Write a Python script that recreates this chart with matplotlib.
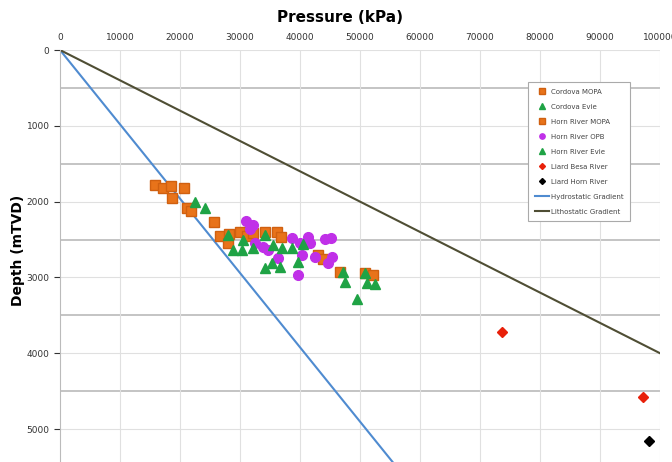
import numpy as np
from matplotlib import pyplot as plt

# pressure (kPa) / depth (mTVD)
cordova_mopa_p = [15800, 17200, 18500, 18700, 20700, 21200, 21800]
cordova_mopa_d = [1781, 1821, 1794, 1952, 1821, 2084, 2124]
cordova_evie_p = [22500, 24200]
cordova_evie_d = [2005, 2084]

hr_mopa_p = [25700, 26700, 28200, 28000, 30000, 31200, 32200, 34200, 36200, 36800,
             43000, 43800, 46700, 50800, 52200]
hr_mopa_d = [2269, 2454, 2427, 2546, 2401, 2454, 2414, 2401, 2401, 2467,
             2704, 2757, 2929, 2942, 2968]

hr_opb_p = [31000, 32200, 31700, 32500, 33800, 34700, 36300, 38700, 40000, 41300,
            41700, 44200, 45200, 40300, 42500, 44700, 45300, 39700]
hr_opb_d = [2256, 2309, 2361, 2546, 2599, 2639, 2744, 2480, 2546, 2467,
            2546, 2493, 2480, 2704, 2731, 2810, 2731, 2968]

hr_evie_p = [28000, 28800, 30500, 30300, 32200, 34200, 35500, 37000, 38700, 40500,
             34200, 35300, 36700, 39700, 47200, 47500, 50800, 51200, 52500, 49500]
hr_evie_d = [2441, 2639, 2507, 2639, 2612, 2441, 2573, 2612, 2612, 2559,
             2876, 2810, 2863, 2797, 2929, 3061, 2942, 3074, 3087, 3285]

besa_p = [73700, 97200]
besa_d = [3720, 4578]
liard_hr_p = [98200]
liard_hr_d = [5158]

hydro_grad = 10.2   # kPa/m
litho_grad = 25.0   # kPa/m

orange = '#E8731A'
green = '#1FA345'
purple = '#C030E8'

fig = plt.figure(figsize=(6.72, 4.62), dpi=100)
ax = fig.add_axes([60/672, 0, 600/672, 412/462])

# grid: light lines every 1000 m / 10000 kPa, heavier lines at the half-thousands
for d in np.arange(1000, 5500, 1000):
    ax.axhline(d, color='#e0e0e0', lw=0.8, zorder=0)
for d in np.arange(500, 5500, 1000):
    ax.axhline(d, color='#c4c4c4', lw=1.4, zorder=0)
for p in np.arange(10000, 100001, 10000):
    ax.axvline(p, color='#e0e0e0', lw=0.8, zorder=0)
ax.axhline(0, color='#e0e0e0', lw=0.8, zorder=0)

depth = np.array([0, 5435])
h_hydro, = ax.plot(depth * hydro_grad, depth, color='#4F8BD0', lw=1.5, label='Hydrostatic Gradient', zorder=2)
h_litho, = ax.plot(depth * litho_grad, depth, color='#4F4E34', lw=1.5, label='Lithostatic Gradient', zorder=2)

ms = 7
h1, = ax.plot(cordova_mopa_p, cordova_mopa_d, 's', color=orange, mec='#D06010', ms=ms, ls='none', label='Cordova MOPA', zorder=3)
h2, = ax.plot(cordova_evie_p, cordova_evie_d, '^', color=green, mec=green, ms=ms, ls='none', label='Cordova Evie', zorder=4)
h3, = ax.plot(hr_mopa_p, hr_mopa_d, 's', color=orange, mec='#D06010', ms=ms, ls='none', label='Horn River MOPA', zorder=3)
h4, = ax.plot(hr_opb_p, hr_opb_d, 'o', color=purple, mec=purple, ms=ms, ls='none', label='Horn River OPB', zorder=3)
h5, = ax.plot(hr_evie_p, hr_evie_d, '^', color=green, mec=green, ms=ms, ls='none', label='Horn River Evie', zorder=4)
h6, = ax.plot(besa_p, besa_d, 'D', color='#E8200A', mec='#E8200A', ms=5.5, ls='none', label='Liard Besa River', zorder=3)
h7, = ax.plot(liard_hr_p, liard_hr_d, 'D', color='black', ms=5.5, ls='none', label='Liard Horn River', zorder=3)

ax.set_xlim(0, 100000)
ax.set_ylim(5435, 0)
ax.xaxis.tick_top()
ax.set_xticks(np.arange(0, 100001, 10000))
ax.set_yticks(np.arange(0, 5001, 1000))
ax.tick_params(axis='x', length=0, labelsize=6.5, pad=6, colors='#333333')
ax.tick_params(axis='y', length=4, labelsize=6.5, colors='#333333', direction='out')
for s in ['right', 'bottom', 'top']:
    ax.spines[s].set_visible(False)
ax.spines['left'].set_color('#bbbbbb')

fig.text(340/672, 1 - 17/462, 'Pressure (kPa)', ha='center', va='center', fontsize=11, fontweight='bold')
fig.text(18/672, 1 - 250/462, 'Depth (mTVD)', ha='center', va='center', rotation=90, fontsize=10, fontweight='bold')

handles = [h1, h2, h3, h4, h5, h6, h7, h_hydro, h_litho]
leg = ax.legend(handles=handles, loc='upper left', bbox_to_anchor=(0.775, 0.93), fontsize=5, frameon=True,
                fancybox=False, edgecolor='#aaaaaa', framealpha=1, labelspacing=1.3,
                handlelength=2.0, handletextpad=0.3, borderpad=0.9, markerscale=0.55)
leg.get_frame().set_linewidth(0.8)
for t in leg.get_texts():
    t.set_color('#444444')

fig.savefig('out.png', dpi=100)
